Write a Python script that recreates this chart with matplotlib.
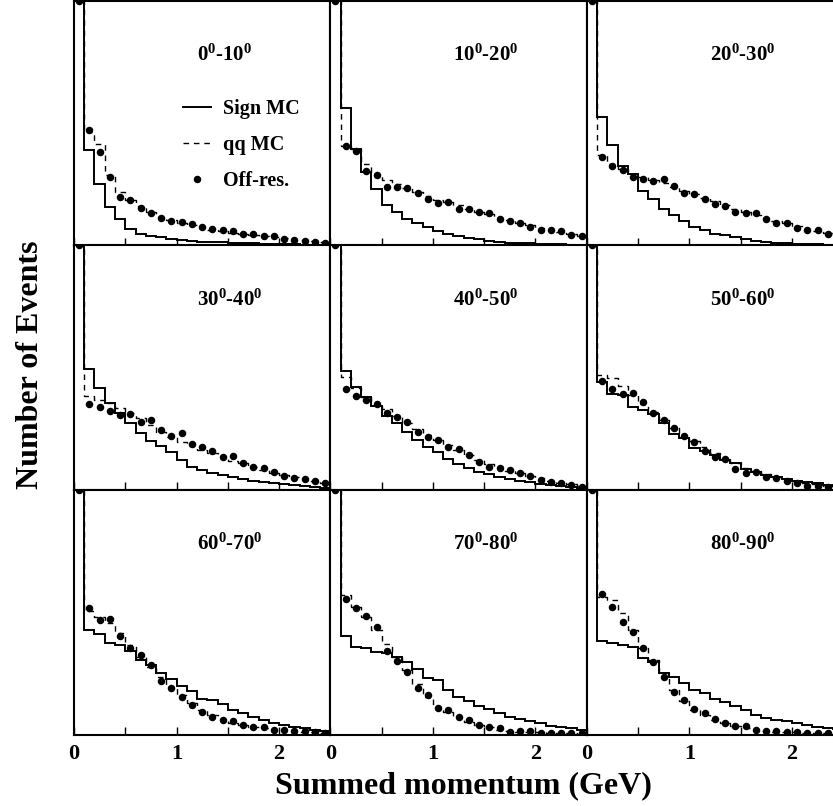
import numpy as np
import matplotlib
matplotlib.use('Agg')
import matplotlib.pyplot as plt

plt.rcParams['font.family'] = ['Liberation Serif', 'DejaVu Serif']
plt.rcParams['font.weight'] = 'bold'
plt.rcParams['mathtext.fontset'] = 'custom'
plt.rcParams['mathtext.rm'] = 'Liberation Serif:bold'
plt.rcParams['mathtext.bf'] = 'Liberation Serif:bold'

# angular bins, one panel each
angle_labels = [r'$\mathbf{0^0}$-$\mathbf{10^0}$', r'$\mathbf{10^0}$-$\mathbf{20^0}$',
                r'$\mathbf{20^0}$-$\mathbf{30^0}$', r'$\mathbf{30^0}$-$\mathbf{40^0}$',
                r'$\mathbf{40^0}$-$\mathbf{50^0}$', r'$\mathbf{50^0}$-$\mathbf{60^0}$',
                r'$\mathbf{60^0}$-$\mathbf{70^0}$', r'$\mathbf{70^0}$-$\mathbf{80^0}$',
                r'$\mathbf{80^0}$-$\mathbf{90^0}$']

# momentum bins (GeV); the first bin (0-0.1) is off scale in every panel
edges = np.round(np.arange(0.0, 2.51, 0.1), 2)
centers = 0.5 * (edges[:-1] + edges[1:])
first_bin = 300.0
y_top = 100.0

# bins 0.1 ... 2.5, arbitrary units (% of panel height)
sign_mc = [
    [39.2, 25.3, 15.8, 10.7, 6.9, 4.9, 3.8, 3.3, 2.7, 2.2, 1.9, 1.6, 1.5, 1.4, 1.2, 1.1, 1.0, 0.8, 0.7, 0.5, 0.5, 0.4, 0.4, 0.3],
    [56.2, 39.3, 30.1, 23.0, 16.5, 13.5, 11.0, 9.4, 7.6, 6.0, 4.5, 3.8, 3.1, 2.6, 2.0, 1.5, 1.2, 1.1, 1.0, 0.8, 0.7, 0.5, 0.4, 0.4],
    [52.5, 40.9, 32.5, 29.1, 22.2, 18.9, 14.8, 12.4, 9.9, 7.6, 6.3, 4.9, 4.1, 3.3, 2.6, 1.9, 1.5, 1.2, 1.0, 0.8, 0.7, 0.5, 0.4, 0.4],
    [49.6, 41.6, 35.7, 31.3, 27.5, 23.4, 20.0, 18.1, 15.7, 12.3, 9.5, 8.2, 6.8, 6.1, 5.5, 4.6, 3.8, 3.1, 2.7, 2.3, 1.9, 1.5, 1.1, 0.7],
    [48.7, 42.3, 38.2, 34.3, 30.4, 27.3, 23.9, 20.4, 17.7, 15.5, 12.7, 10.6, 8.9, 7.5, 6.4, 5.5, 4.6, 3.8, 3.1, 2.6, 2.0, 1.6, 1.2, 0.8],
    [44.3, 39.3, 38.8, 34.1, 32.7, 30.9, 27.3, 22.9, 21.1, 17.0, 16.1, 14.3, 12.3, 11.2, 8.5, 7.5, 6.1, 5.2, 4.4, 3.8, 3.3, 2.7, 2.0, 1.6],
    [42.7, 40.9, 37.2, 36.6, 34.2, 30.4, 28.6, 25.0, 22.5, 19.8, 17.9, 14.7, 14.0, 12.4, 10.2, 8.6, 7.0, 5.9, 4.8, 3.8, 3.0, 2.5, 1.9, 1.5],
    [40.2, 35.9, 35.5, 33.8, 33.4, 31.8, 29.5, 26.6, 22.9, 22.2, 18.1, 15.4, 13.8, 11.6, 10.6, 8.6, 7.0, 6.3, 5.6, 4.5, 3.5, 2.9, 2.5, 2.0],
    [38.2, 37.2, 36.6, 35.9, 31.4, 29.7, 25.2, 23.6, 21.1, 18.1, 16.8, 14.7, 13.4, 11.6, 10.0, 7.9, 6.8, 6.1, 5.5, 4.5, 3.8, 3.1, 2.7, 2.3],
]
qq_mc = [
    [46.4, 41.6, 28.7, 21.9, 18.8, 16.0, 13.7, 11.7, 10.3, 9.2, 8.3, 7.3, 6.5, 6.0, 5.3, 4.9, 4.4, 3.8, 3.4, 3.0, 2.6, 2.2, 1.8, 1.4],
    [40.5, 39.6, 33.5, 29.4, 26.7, 25.0, 23.7, 21.9, 20.1, 18.8, 17.8, 16.5, 15.1, 13.7, 12.8, 11.4, 10.3, 9.2, 8.3, 7.2, 6.3, 5.4, 4.6, 3.9],
    [36.9, 33.5, 31.4, 29.4, 28.0, 26.7, 25.6, 23.9, 22.3, 20.9, 19.6, 18.0, 16.5, 15.1, 13.7, 12.4, 11.3, 10.1, 9.0, 7.9, 6.9, 6.0, 5.2, 4.4],
    [38.4, 36.8, 35.7, 33.4, 31.3, 29.3, 26.6, 23.9, 21.8, 19.8, 18.0, 16.4, 15.0, 13.4, 12.0, 10.9, 9.5, 8.2, 7.1, 6.1, 5.2, 4.4, 3.7, 3.0],
    [46.3, 41.6, 38.2, 35.4, 33.0, 30.3, 27.3, 24.8, 22.5, 20.4, 18.4, 16.4, 14.3, 12.3, 10.6, 9.1, 7.9, 6.8, 5.7, 4.8, 3.8, 3.0, 2.3, 1.6],
    [47.0, 45.7, 42.7, 38.8, 35.0, 32.0, 28.6, 25.2, 22.5, 20.0, 17.4, 15.3, 12.9, 10.9, 9.1, 7.8, 6.5, 5.5, 4.5, 3.7, 3.0, 2.3, 1.8, 1.2],
    [50.6, 48.1, 45.4, 41.3, 36.6, 31.8, 27.7, 23.6, 19.5, 16.1, 13.0, 10.2, 7.9, 6.3, 4.9, 3.8, 3.1, 2.5, 2.0, 1.8, 1.5, 1.2, 1.0, 0.7],
    [57.0, 52.2, 48.1, 42.7, 36.8, 31.8, 26.3, 20.6, 15.4, 11.3, 9.0, 7.0, 5.2, 3.8, 2.9, 2.0, 1.5, 1.2, 1.1, 1.0, 0.8, 0.7, 0.5, 0.4],
    [56.3, 55.0, 49.5, 42.7, 35.2, 30.4, 25.0, 18.1, 13.8, 10.2, 7.9, 6.1, 4.5, 3.4, 2.6, 1.9, 1.5, 1.2, 1.1, 1.0, 0.8, 0.7, 0.5, 0.4],
]
off_res = [
    [47.1, 38.2, 28.0, 19.9, 18.5, 15.5, 13.1, 11.4, 10.1, 9.7, 8.7, 7.6, 6.8, 6.3, 6.0, 4.9, 4.6, 3.9, 3.8, 2.6, 2.2, 1.9, 1.5, 1.2],
    [40.5, 38.6, 30.5, 28.7, 23.9, 23.9, 23.3, 21.6, 18.9, 17.4, 17.8, 15.1, 14.8, 13.5, 13.3, 10.7, 10.1, 9.4, 7.6, 6.3, 6.3, 5.8, 4.2, 3.9],
    [36.2, 32.5, 30.7, 28.0, 27.1, 26.2, 27.1, 24.5, 21.5, 21.2, 19.2, 17.1, 16.2, 13.7, 13.1, 13.1, 11.0, 9.0, 9.0, 7.2, 6.3, 6.3, 4.5, 3.8],
    [35.0, 33.8, 32.3, 30.7, 30.9, 27.9, 28.6, 24.5, 22.1, 23.4, 18.8, 17.7, 16.1, 13.6, 14.0, 10.9, 9.5, 8.9, 7.2, 5.9, 4.8, 4.5, 3.8, 3.0],
    [41.3, 38.6, 36.7, 35.0, 31.3, 30.0, 27.9, 23.9, 21.8, 20.4, 17.7, 16.6, 14.3, 11.6, 9.3, 8.9, 8.2, 7.1, 5.7, 4.1, 3.4, 2.7, 2.0, 1.4],
    [44.4, 41.4, 39.1, 39.8, 35.8, 31.6, 28.6, 25.5, 22.2, 19.5, 16.1, 13.6, 12.5, 8.6, 7.1, 7.5, 5.5, 4.8, 3.8, 2.7, 1.6, 1.6, 1.4, 1.1],
    [51.7, 46.8, 47.1, 40.4, 35.5, 32.5, 28.4, 21.8, 19.2, 15.4, 12.0, 9.3, 7.0, 5.9, 5.6, 3.8, 2.9, 3.1, 2.0, 2.0, 1.5, 1.4, 1.1, 0.8],
    [55.2, 51.8, 48.4, 44.1, 34.2, 30.1, 25.5, 19.2, 16.1, 11.0, 10.0, 7.2, 5.9, 3.8, 3.1, 2.5, 1.1, 1.4, 1.5, 0.8, 0.7, 0.7, 0.7, 0.8],
    [57.3, 52.0, 46.1, 41.7, 35.2, 29.7, 23.3, 17.5, 14.0, 10.5, 8.6, 6.3, 4.5, 3.4, 3.4, 2.0, 1.5, 1.5, 1.1, 1.0, 0.8, 0.8, 0.7, 0.7],
]

fig = plt.figure(figsize=(8.33, 8.06), dpi=100)

# 3x3 grid without gaps; right column runs past the figure edge
ax_left, ax_w = 0.0888, 0.3078
ax_h = 0.3036
row_bottoms = [0.6954, 0.392, 0.0887]

for k in range(9):
    r, c = divmod(k, 3)
    ax = fig.add_axes([ax_left + c * ax_w, row_bottoms[r], ax_w, ax_h])

    sig = np.r_[first_bin, sign_mc[k]]
    qq = np.r_[first_bin, qq_mc[k]]
    off = np.minimum(np.r_[first_bin, off_res[k]], y_top)

    l1 = ax.stairs(sig, edges, baseline=None, color='black', lw=1.4, label='Sign MC')
    l2, = ax.plot(edges, np.r_[qq, qq[-1]], drawstyle='steps-post',
                  color='black', lw=1.0, dashes=(4, 3.5), label='qq MC')
    l3, = ax.plot(centers, off, 'o', color='black', ms=4.4, zorder=3, label='Off-res.')

    ax.set_xlim(0, 2.5)
    ax.set_ylim(0, y_top)
    ax.set_yticks([])
    ax.set_xticks([0, 0.5, 1, 1.5, 2, 2.5])
    if r == 2:
        ax.set_xticklabels(['0', '', '1', '', '2', ''])
    else:
        ax.set_xticklabels([])
    ax.tick_params(axis='x', direction='in', length=6, width=1.0, labelsize=16, pad=7)
    for sp in ax.spines.values():
        sp.set_linewidth(1.5)

    ax.text(0.48, 0.776, angle_labels[k], transform=ax.transAxes,
            ha='left', va='center', fontsize=15)

    if k == 0:
        ax.legend([l1, l2, l3], ['Sign MC', 'qq MC', 'Off-res.'],
                  loc='upper left', bbox_to_anchor=(0.385, 0.64), frameon=False,
                  fontsize=14.5, handlelength=1.4, handletextpad=0.6,
                  labelspacing=0.8, borderpad=0, numpoints=1)

fig.text(0.037, 0.547, 'Number of Events', rotation=90, ha='center', va='center',
         fontsize=23)
fig.text(0.556, 0.016, 'Summed momentum (GeV)', ha='center', va='baseline',
         fontsize=23)

fig.savefig('out.png', dpi=100)
